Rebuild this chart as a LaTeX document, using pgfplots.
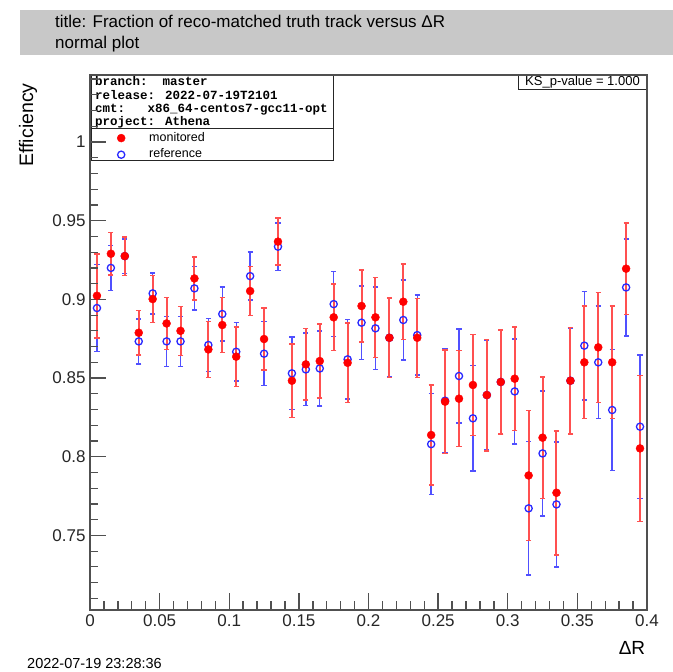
\documentclass[border=0pt]{standalone}
\usepackage{pgfplots}
\usepackage{pgfplotstable}
\pgfplotsset{compat=1.18}
\usepackage{fontspec}
\setmainfont{Liberation Sans}
\newfontfamily\infofont{Liberation Mono}

\definecolor{monred}{RGB}{255,0,0}
\definecolor{monbar}{RGB}{255,80,80}
\definecolor{refblue}{RGB}{40,40,255}
\definecolor{refbar}{RGB}{80,80,255}
\definecolor{framegray}{RGB}{80,80,80}
\definecolor{band}{RGB}{200,200,200}

% monitored efficiency per Delta R bin (bin centre, value, error)
\pgfplotstableread{
x     y      e
0.005 0.9023 0.0267
0.015 0.9290 0.0134
0.025 0.9275 0.0123
0.035 0.8788 0.0141
0.045 0.9002 0.0150
0.055 0.8847 0.0164
0.065 0.8800 0.0156
0.075 0.9133 0.0136
0.085 0.8682 0.0178
0.095 0.8837 0.0175
0.105 0.8636 0.0189
0.115 0.9053 0.0156
0.125 0.8748 0.0197
0.135 0.9367 0.0150
0.145 0.8483 0.0233
0.155 0.8587 0.0228
0.165 0.8608 0.0236
0.175 0.8886 0.0212
0.185 0.8597 0.0252
0.195 0.8958 0.0228
0.205 0.8886 0.0254
0.215 0.8756 0.0253
0.225 0.8985 0.0240
0.235 0.8756 0.0251
0.245 0.8138 0.0317
0.255 0.8350 0.0328
0.265 0.8369 0.0305
0.275 0.8456 0.0320
0.285 0.8392 0.0354
0.295 0.8475 0.0332
0.305 0.8496 0.0329
0.315 0.7881 0.0412
0.325 0.8121 0.0385
0.335 0.7771 0.0394
0.345 0.8483 0.0339
0.355 0.8600 0.0357
0.365 0.8695 0.0350
0.375 0.8600 0.0357
0.385 0.9195 0.0291
0.395 0.8053 0.0463
}\monitored

% reference efficiency per Delta R bin
\pgfplotstableread{
x     y      e
0.005 0.8945 0.0277
0.015 0.9200 0.0144
0.025 0.9275 0.0110
0.035 0.8733 0.0143
0.045 0.9038 0.0130
0.055 0.8733 0.0159
0.065 0.8733 0.0159
0.075 0.9070 0.0138
0.085 0.8710 0.0170
0.095 0.8907 0.0171
0.105 0.8667 0.0185
0.115 0.9148 0.0152
0.125 0.8655 0.0204
0.135 0.9335 0.0150
0.145 0.8530 0.0230
0.155 0.8555 0.0231
0.165 0.8561 0.0238
0.175 0.8970 0.0206
0.185 0.8619 0.0252
0.195 0.8852 0.0234
0.205 0.8816 0.0262
0.215 0.8756 0.0250
0.225 0.8869 0.0255
0.235 0.8773 0.0254
0.245 0.8080 0.0321
0.255 0.8356 0.0330
0.265 0.8513 0.0299
0.275 0.8244 0.0334
0.285 0.8392 0.0350
0.295 0.8475 0.0330
0.305 0.8415 0.0334
0.315 0.7672 0.0424
0.325 0.8021 0.0397
0.335 0.7697 0.0397
0.345 0.8483 0.0335
0.355 0.8706 0.0346
0.365 0.8600 0.0357
0.375 0.8297 0.0386
0.385 0.9076 0.0308
0.395 0.8191 0.0455
}\reference

\begin{document}
\begin{tikzpicture}
\begin{scope}[x=1pt,y=1pt]
\useasboundingbox (0,0) rectangle (673,672);

% title band
\fill[band] (20,617) rectangle (673,662);
\node[anchor=base west, inner sep=0pt, font=\fontsize{17}{20}\selectfont] at (55,644)
  {title: Fraction of reco-matched truth track versus ΔR};
\node[anchor=base west, inner sep=0pt, font=\fontsize{17}{20}\selectfont] at (55,623)
  {normal plot};

% info and legend box
\draw[fill=white, draw=black!85, line width=1pt] (91,511) rectangle (333,597);
\draw[black!85, line width=1pt] (91,543) -- (333,543);
\begin{scope}[every node/.style={anchor=base west, inner sep=0pt,
    font=\infofont\bfseries\fontsize{12.5}{13}\selectfont}]
  \node at (95,586) {branch:\ \ master};
  \node at (95,572.5) {release: 2022-07-19T2101};
  \node at (95,559) {cmt:\ \ \ x86\_64-centos7-gcc11-opt};
  \node at (95,546) {project: Athena};
\end{scope}

% KS box
\draw[fill=white, draw=black!85, line width=1pt] (518,582) rectangle (647,597);
\node[inner sep=0pt, font=\fontsize{13}{14}\selectfont] at (582.5,589.5) {KS\_p-value = 1.000};
\end{scope}

\begin{axis}[
  at={(90pt,62pt)}, anchor=south west,
  scale only axis, width=557pt, height=535pt,
  xmin=0, xmax=0.4, ymin=0.7026, ymax=1.0426,
  axis line style={framegray, line width=1.2pt},
  major tick length=0pt, minor tick length=0pt,
  xtick={0,0.05,0.1,0.15,0.2,0.25,0.3,0.35,0.4},
  xticklabels={0,0.05,0.1,0.15,0.2,0.25,0.3,0.35,0.4},
  ytick={0.75,0.8,0.85,0.9,0.95,1},
  yticklabels={0.75,0.8,0.85,0.9,0.95,1},
  xtick pos=left, ytick pos=left,
  ticklabel style={font=\fontsize{17}{17}\selectfont, text=black!85},
  xticklabel style={yshift=-1pt}, yticklabel style={xshift=-1pt},
  reverse legend,
  legend image code/.code={
    \path[draw=none, fill=none] (0pt,-6pt) rectangle (58pt,6pt);
    \draw[#1] plot coordinates {(31pt,0pt)};},
  legend style={at={(axis description cs:0,0.8955)}, anchor=north west,
    draw=none, fill=none, inner sep=0pt, row sep=2.6pt,
    font=\fontsize{12.5}{13}\selectfont,
    nodes={inner sep=1pt, text height=9pt, text depth=3pt}},
  legend cell align=left,
]
\addplot[only marks, mark=o, mark size=3.6pt, refblue,
  mark options={line width=1.3pt},
  error bars/.cd, y dir=both, y explicit, error mark=-,
  error bar style={draw=refbar, solid, line width=1.4pt},
  error mark options={draw=refbar, solid, rotate=90, mark size=2.6pt, line width=1.4pt}]
  table[x=x, y=y, y error=e] {\reference};
\addlegendentry{reference}
\addplot[only marks, mark=*, mark size=4pt, monred,
  mark options={fill=monred, draw=monred},
  error bars/.cd, y dir=both, y explicit, error mark=-,
  error bar style={draw=monbar, solid, line width=2pt},
  error mark options={draw=monbar, solid, rotate=90, mark size=2.6pt, line width=1.5pt}]
  table[x=x, y=y, y error=e] {\monitored};
\addlegendentry{monitored}

% inward tick marks on the left edge (16pt major, 8pt minor)
\pgfplotsinvokeforeach{0.75,0.8,0.85,0.9,0.95,1}{
  \draw[framegray, line width=1.2pt] (axis cs:0,#1) -- (axis cs:0.0115,#1);}
\pgfplotsinvokeforeach{0.71,0.72,0.73,0.74,0.76,0.77,0.78,0.79,0.81,0.82,0.83,0.84,
    0.86,0.87,0.88,0.89,0.91,0.92,0.93,0.94,0.96,0.97,0.98,0.99,
    1.01,1.02,1.03,1.04}{
  \draw[framegray, line width=1.2pt] (axis cs:0,#1) -- (axis cs:0.00575,#1);}
\end{axis}

% inward tick marks on the lower edge, one every 0.01 in Delta R (557pt per 0.4)
\begin{scope}[x=1pt,y=1pt]
\foreach \k in {1,...,39}{
  \pgfmathtruncatemacro{\major}{mod(\k,5)==0 ? 16 : 8}
  \draw[framegray, line width=1.4pt] ({90+\k*13.925},62.6) -- ++(0,\major);}

% axis titles and time stamp
\node[rotate=90, inner sep=0pt, font=\fontsize{19.5}{20}\selectfont] at (28,547) {Efficiency};
\node[anchor=base, inner sep=0pt, font=\fontsize{19}{20}\selectfont] at (632,17) {ΔR};
\node[anchor=base west, inner sep=0pt, font=\fontsize{14.5}{15}\selectfont] at (27,3) {2022-07-19 23:28:36};
\end{scope}
\end{tikzpicture}
\end{document}
